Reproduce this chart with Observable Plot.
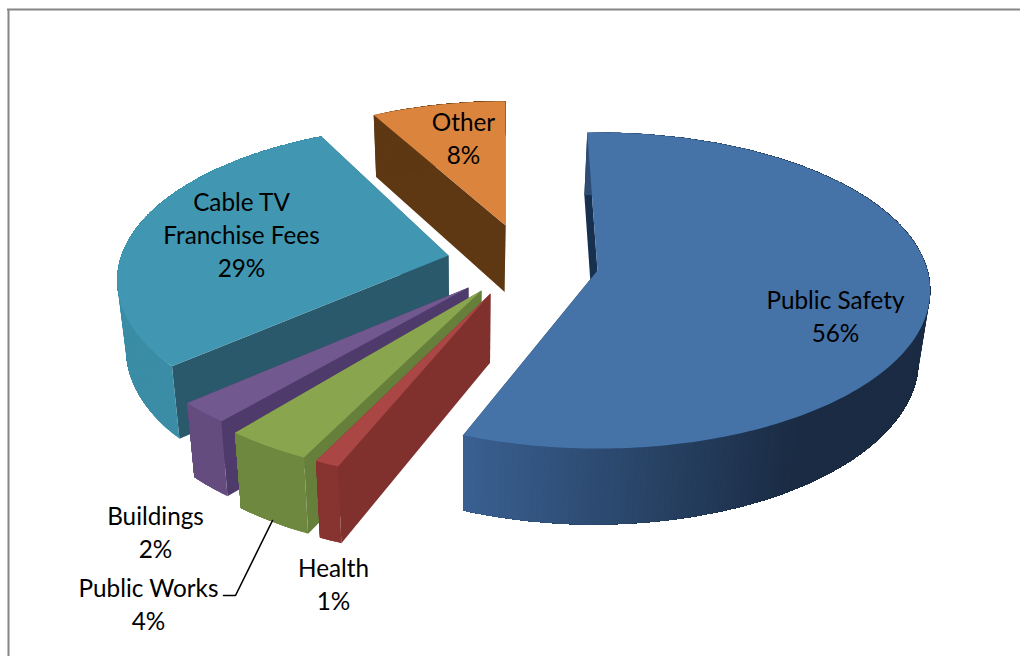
<!DOCTYPE html>
<html><head><meta charset="utf-8">
<style>html,body{margin:0;padding:0;background:#fff}svg{display:block}</style>
<script src="https://cdn.jsdelivr.net/npm/d3@7"></script>
<script src="https://cdn.jsdelivr.net/npm/@observablehq/plot@0.6"></script>
</head><body><script>
const categories = ["Public Safety","Health","Public Works","Buildings","Cable TV\nFranchise Fees","Other"];
const shares = [56.4,1,3.5,2.2,29,8];

// Layout of the exploded 3-D view, one entry per slice (same order as categories).
const layout = [
 {ax:597,ay:270,X:330,Y:155.5,k:.127,rot:-2,top:"#4572a7",cut:"#17304f",rim:x=>d3.interpolateRgb("#3a6192","#1a2b43")(Math.min(1,Math.max(0,(x-464)/340)))},
 {ax:490,ay:293,X:349,Y:165,k:.13,rot:-.44,top:"#aa4643",cut:"#80312e",rim:()=>"#87332f"},
 {ax:481,ay:290,X:351,Y:165,k:.13,rot:-.09,top:"#89a54e",cut:"#66803b",rim:()=>"#6e893f"},
 {ax:468,ay:287,X:345,Y:158,k:.13,rot:.96,top:"#71588f",cut:"#4f3a6c",rim:()=>"#644c7f"},
 {ax:448,ay:255,X:327,Y:152,k:.16,rot:2.06,top:"#4197b1",cut:"#29596b",rim:()=>"#3b8da6"},
 {ax:505,ay:225,X:304,Y:140,k:.127,rot:-.36,top:"#db843d",cut:"#5e3713",rim:()=>"#5e3713"}
];
const labelPos = [[835,298],[333,566],[148,586],[155,514],[241,200],[463,120]];
const leader = [[223,595],[235,595],[272,520]];
const drawOrder = [5,4,3,2,1,0];
const lineGap = 33, fontPx = 24.3;

const rad = Math.PI/180;
const lower = ([x,y]) => [x+(470-x)*.025, y+57+.042*y];
const polys = [];
const add = (id,pts,color) => pts.concat([pts[0]]).forEach(p => polys.push({id,x:p[0],y:p[1],color}));
let cum = 0;
const spans = shares.map(v => {const a = cum; cum += v*3.6; return [a,cum];});
for (const i of drawOrder) {
  const L = layout[i];
  const a0 = spans[i][0]+L.rot, a1 = spans[i][1]+L.rot;
  const P = deg => {
    const s = Math.sin(deg*rad), c = Math.cos(deg*rad), d = 1+L.k*c;
    return [L.ax+L.X*s/d, L.ay-L.Y*c/d];
  };
  const apex = [L.ax,L.ay];
  const n = Math.max(2,Math.ceil((a1-a0)/1));
  const arc = d3.range(n+1).map(j => P(a0+(a1-a0)*j/n));
  add(`${i}s`,[apex,arc[0],lower(arc[0]),lower(apex)],L.cut);
  add(`${i}e`,[apex,arc[n],lower(arc[n]),lower(apex)],L.cut);
  // each rim band runs to the end of the arc, so the next band overlaps it without a seam
  for (let j=0;j<n;j++) {
    const rest = arc.slice(j);
    add(`${i}r${j}`,[...rest,...rest.map(lower).reverse()],L.rim(arc[j][0]));
  }
  add(`${i}t`,[apex,...arc],L.top);
}
const labels = categories.map((c,i)=>{
  const lines = `${c}\n${Math.round(shares[i])}%`;
  const extra = lines.split("\n").length-1;
  return {text:lines,x:labelPos[i][0],y:labelPos[i][1]+extra*lineGap/2};
});

const chart = Plot.plot({
  width:1020,height:656,margin:0,
  style:{background:"#fff",fontFamily:"Lato"},
  x:{domain:[0,1020],range:[0,1020],axis:null},
  y:{domain:[0,656],range:[0,656],axis:null},
  color:{type:"identity"},
  marks:[
    Plot.ruleX([8],{y1:9,y2:656,stroke:"#868686",strokeWidth:2}),
    Plot.ruleY([9],{x1:7,x2:1020,stroke:"#868686",strokeWidth:2}),
    Plot.line(polys,{x:"x",y:"y",z:"id",fill:"color",stroke:"none",curve:"linear"}),
    Plot.line(leader,{x:d=>d[0],y:d=>d[1],stroke:"#000",strokeWidth:1.6}),
    Plot.text(labels,{x:"x",y:"y",text:"text",lineAnchor:"middle",lineHeight:lineGap/fontPx,fontSize:fontPx,fontFamily:"Lato",fill:"#000",textAnchor:"middle"})
  ]
});
document.body.appendChild(chart);
</script></body></html>
